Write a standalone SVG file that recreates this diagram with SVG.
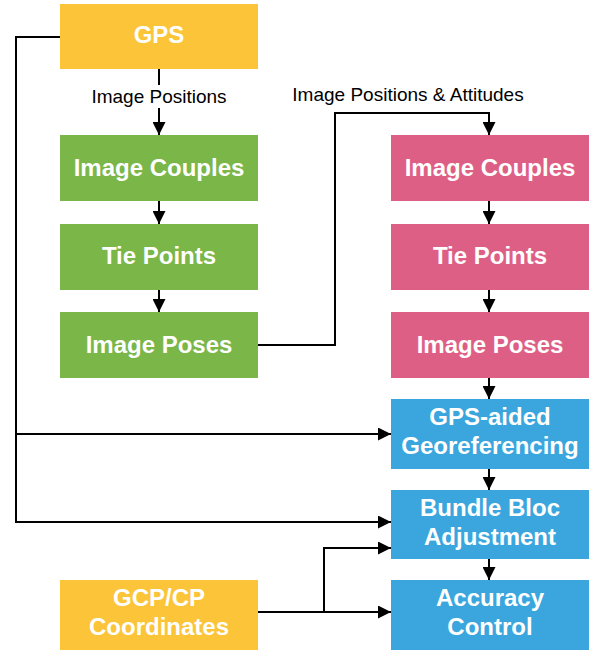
<svg xmlns="http://www.w3.org/2000/svg" width="604" height="650" viewBox="0 0 604 650">
<style>
.y{fill:#FCC438}.g{fill:#7AB648}.p{fill:#DE5F85}.b{fill:#3AA6DD}
.t{font-family:"Liberation Sans",Arial,sans-serif;font-weight:bold;font-size:24px;fill:#fff;text-anchor:middle}
.l{font-family:"Liberation Sans",Arial,sans-serif;font-size:19px;fill:#000;text-anchor:middle}
.c{fill:none;stroke:#000;stroke-width:2}
</style>
<defs>
<marker id="a" viewBox="0 0 10 10" refX="10" refY="5" markerWidth="13" markerHeight="13" markerUnits="userSpaceOnUse" orient="auto">
<path d="M0,0 L10,5 L0,10 Z" fill="#000"/>
</marker>
</defs>
<rect width="604" height="650" fill="#fff"/>
<g id="connectors">
<path class="c" d="M159,69 V85"/>
<path class="c" d="M159,108 V135" marker-end="url(#a)"/>
<path class="c" d="M159,201 V224" marker-end="url(#a)"/>
<path class="c" d="M159,290 V312" marker-end="url(#a)"/>
<path class="c" d="M258,345 H335 V113 H489 V135" marker-end="url(#a)"/>
<path class="c" d="M489,201 V224" marker-end="url(#a)"/>
<path class="c" d="M489,290 V312" marker-end="url(#a)"/>
<path class="c" d="M489,378 V399" marker-end="url(#a)"/>
<path class="c" d="M489,469 V490" marker-end="url(#a)"/>
<path class="c" d="M489,559 V580" marker-end="url(#a)"/>
<path class="c" d="M60,37 H16 V522 H391" marker-end="url(#a)"/>
<path class="c" d="M16,434 H391" marker-end="url(#a)"/>
<path class="c" d="M258,612 H391" marker-end="url(#a)"/>
<path class="c" d="M324,612 V548 H391" marker-end="url(#a)"/>
<text class="l" x="159" y="103">Image Positions</text>
<text class="l" x="408" y="101">Image Positions &amp; Attitudes</text>
</g>
<g id="gps"><rect class="y" x="60" y="4" width="198" height="65"/><text class="t" x="159" y="43">GPS</text></g>
<g id="couples1"><rect class="g" x="60" y="135" width="198" height="66"/><text class="t" x="159" y="176">Image Couples</text></g>
<g id="tie1"><rect class="g" x="60" y="224" width="198" height="66"/><text class="t" x="159" y="264">Tie Points</text></g>
<g id="poses1"><rect class="g" x="60" y="312" width="198" height="66"/><text class="t" x="159" y="353">Image Poses</text></g>
<g id="couples2"><rect class="p" x="391" y="135" width="198" height="66"/><text class="t" x="490" y="176">Image Couples</text></g>
<g id="tie2"><rect class="p" x="391" y="224" width="198" height="66"/><text class="t" x="490" y="264">Tie Points</text></g>
<g id="poses2"><rect class="p" x="391" y="312" width="198" height="66"/><text class="t" x="490" y="353">Image Poses</text></g>
<g id="georef"><rect class="b" x="391" y="399" width="198" height="70"/><text class="t" x="490" y="425">GPS-aided</text><text class="t" x="490" y="454">Georeferencing</text></g>
<g id="bundle"><rect class="b" x="391" y="490" width="198" height="69"/><text class="t" x="490" y="516">Bundle Bloc</text><text class="t" x="490" y="545">Adjustment</text></g>
<g id="accuracy"><rect class="b" x="391" y="580" width="198" height="70"/><text class="t" x="490" y="606">Accuracy</text><text class="t" x="490" y="635">Control</text></g>
<g id="gcp"><rect class="y" x="60" y="580" width="198" height="70"/><text class="t" x="159" y="606">GCP/CP</text><text class="t" x="159" y="635">Coordinates</text></g>
</svg>
